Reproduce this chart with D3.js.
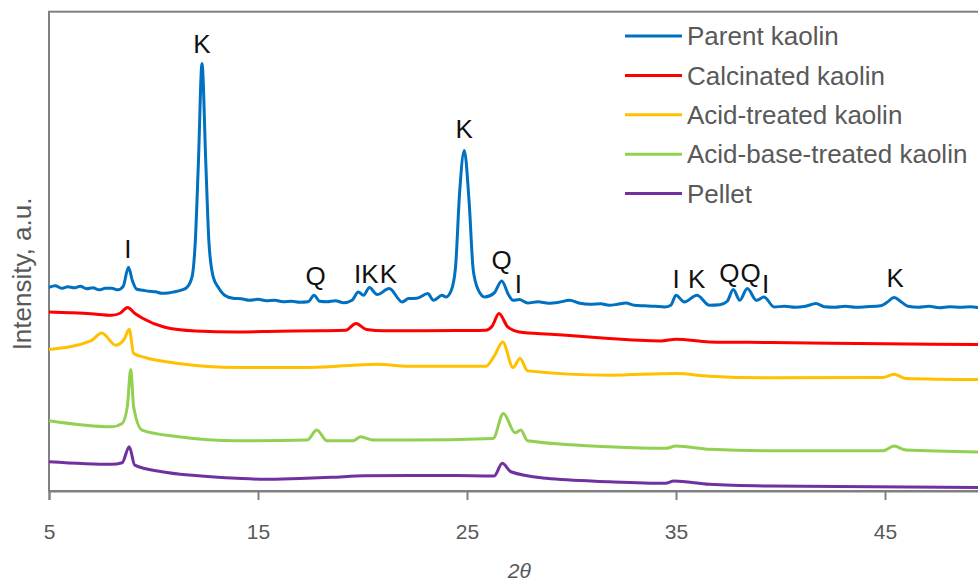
<!DOCTYPE html>
<html>
<head>
<meta charset="utf-8">
<script src="https://cdn.jsdelivr.net/npm/d3@7"></script>
<style>
  body { margin: 0; background: #fff; }
  svg { display: block; font-family: "Liberation Sans", Arial, sans-serif; }
</style>
</head>
<body>
<div id="chart"></div>
<script>
// XRD patterns, [2theta, intensity a.u.] (stacked offsets kept as drawn)
var parentKaolin = [
  [5.0, 204], [5.3, 205.5], [5.6, 203], [5.9, 204.5], [6.2, 203.5], [6.5, 205], [6.8, 202.5],
  [7.1, 203.5], [7.4, 201.5], [7.7, 203], [8.0, 203], [8.3, 201.5], [8.55, 205], [8.8, 224],
  [9.0, 210], [9.2, 202], [9.5, 201], [9.8, 200], [10.1, 199.5], [10.4, 198], [10.7, 198.3],
  [11.0, 199.5], [11.3, 201], [11.6, 204], [11.85, 215], [12.0, 250], [12.15, 330], [12.32, 428],
  [12.5, 330], [12.65, 250], [12.85, 215], [13.1, 204], [13.4, 196], [13.8, 193], [14.2, 192.5],
  [14.6, 191], [15.0, 192], [15.4, 190.5], [15.8, 191], [16.2, 189.5], [16.6, 190], [17.0, 189],
  [17.4, 189.5], [17.68, 196], [17.95, 190], [18.3, 189.5], [18.7, 190.5], [19.1, 188.5],
  [19.5, 191], [19.8, 199.3], [20.05, 196], [20.33, 203.7], [20.7, 196.7], [21.28, 202.7],
  [21.9, 189.3], [22.2, 192.7], [22.6, 193], [23.12, 197.7], [23.4, 191], [23.8, 196],
  [24.0, 194.3], [24.25, 201], [24.45, 224], [24.65, 300], [24.87, 341], [25.1, 290],
  [25.3, 221], [25.55, 201], [25.85, 194.3], [26.3, 198.3], [26.66, 210.3], [27.0, 196],
  [27.2, 191], [27.5, 191.7], [27.9, 188.3], [28.4, 189.5], [28.9, 188], [29.4, 189],
  [29.9, 191], [30.4, 188], [30.9, 187], [31.4, 187.5], [31.8, 186], [32.2, 187], [32.6, 188.3],
  [33.0, 186], [33.5, 185.5], [34.0, 185], [34.45, 184.3], [34.75, 186], [35.0, 196],
  [35.4, 189.3], [36.0, 196], [36.6, 186], [37.1, 186.5], [37.45, 190], [37.74, 201.7],
  [38.05, 191], [38.41, 202.7], [38.85, 191], [39.21, 194.3], [39.7, 184.3], [40.2, 185],
  [40.7, 184], [41.2, 185], [41.7, 187.7], [42.1, 184.5], [42.6, 184], [43.1, 185], [43.6, 184],
  [44.1, 184.5], [44.8, 185.5], [45.1, 189], [45.43, 193.7], [45.8, 189], [46.1, 185],
  [46.6, 184], [47.1, 185], [47.6, 183.5], [48.1, 184.5], [48.6, 184], [49.1, 184.5],
  [49.6, 183.5], [50.0, 184]
];
var calcinatedKaolin = [
  [5.0, 179.3], [6.0, 178.5], [7.0, 177.5], [8.0, 176], [8.4, 178], [8.76, 183.7], [9.1, 178],
  [9.5, 172.7], [10.5, 164.3], [12.0, 160.3], [14.0, 159.3], [16.0, 160], [18.0, 160.5],
  [19.2, 161], [19.69, 167.7], [20.2, 161.7], [21.0, 160.5], [23.0, 160.5], [25.0, 160.7],
  [25.9, 161], [26.2, 165], [26.53, 177.7], [26.95, 164.3], [27.5, 159.3], [29.0, 157],
  [31.0, 154], [31.8, 152.7], [34.3, 150.3], [35.0, 152], [36.6, 149.3], [39.5, 148.7],
  [45.0, 147.5], [50.0, 146.5]
];
var acidTreatedKaolin = [
  [5.0, 141.7], [7.0, 150.3], [7.52, 158.3], [8.2, 146], [8.6, 152], [8.84, 162], [9.05, 137.7],
  [9.6, 133.7], [11.2, 127.7], [14.0, 123.7], [17.5, 123.7], [20.68, 127], [22.2, 125],
  [25.9, 125], [26.3, 135], [26.71, 149.3], [27.2, 123.7], [27.54, 132.7], [27.9, 120.3],
  [31.8, 116], [35.0, 117.7], [36.6, 115], [39.5, 113.3], [44.9, 113.7], [45.43, 117],
  [46.0, 112.7], [50.0, 111.5]
];
var acidBaseTreatedKaolin = [
  [5.0, 70.3], [8.0, 64.3], [8.5, 67.7], [8.75, 85], [8.91, 121.7], [9.05, 84.3], [9.45, 61],
  [11.2, 54.3], [14.0, 50.3], [17.35, 51], [17.81, 61], [18.3, 50.3], [19.55, 50.3],
  [19.91, 54.3], [20.5, 51], [22.2, 51], [26.25, 52.7], [26.74, 77.7], [27.3, 58.3],
  [27.57, 61], [27.9, 50.3], [31.8, 44.3], [34.5, 42.7], [35.0, 45], [36.6, 41.7],
  [39.5, 40.3], [44.9, 40.3], [45.43, 45], [46.0, 41], [50.0, 39]
];
var pellet = [
  [5.0, 29.3], [8.0, 26.7], [8.5, 28.3], [8.84, 44.3], [9.1, 26], [10.4, 19.3], [12.0, 15.5],
  [14.0, 12.7], [15.3, 11.7], [17.0, 12.6], [18.5, 13.7], [20.1, 15.2], [22.2, 15.6],
  [24.5, 15.4], [26.3, 15], [26.69, 27.7], [27.1, 19.3], [28.8, 12.7], [31.8, 9.3],
  [34.5, 7.7], [34.9, 10], [36.6, 6.7], [39.5, 5], [50.0, 3.5]
];

var seriesNames = ["Parent kaolin", "Calcinated kaolin", "Acid-treated kaolin", "Acid-base-treated kaolin", "Pellet"];
var seriesData = [parentKaolin, calcinatedKaolin, acidTreatedKaolin, acidBaseTreatedKaolin, pellet];
var seriesColors = ["#0070C0", "#FF0000", "#FFC000", "#92D050", "#7030A0"];

// phase labels: K kaolinite, I illite, Q quartz
var peakLabels = ["I", "K", "Q", "I", "K", "K", "K", "Q", "I", "I", "K", "Q", "Q", "I", "K"];
var peakTheta  = [8.77, 12.32, 17.76, 19.77, 20.36, 21.24, 24.87, 26.66, 27.46, 35.0, 35.99, 37.55, 38.57, 39.29, 45.49];
var peakHeight = [233, 439, 206, 208, 208, 208, 354, 222, 198, 203, 203, 209, 209, 198, 204];

var xTicks = [5, 15, 25, 35, 45];

var width = 978, height = 584;
var margin = { top: 11.7, left: 49, bottom: 93 };
var plotRight = 989.5; // axis runs to 50, just past the picture edge

var svg = d3.select("#chart").append("svg")
  .attr("width", width)
  .attr("height", height);

var x = d3.scaleLinear().domain([5, 50]).range([margin.left, plotRight]);
var y = d3.scaleLinear().domain([0, 480]).range([height - margin.bottom, margin.top]);

// plot frame
svg.append("rect")
  .attr("x", x(5))
  .attr("y", y(480))
  .attr("width", x(50) - x(5))
  .attr("height", y(0) - y(480))
  .attr("fill", "none")
  .attr("stroke", "#808080")
  .attr("stroke-width", 2);

// x axis
var xAxis = svg.append("g")
  .attr("transform", "translate(0," + y(0) + ")")
  .call(d3.axisBottom(x).tickValues(xTicks).tickSize(9).tickPadding(24).tickFormat(d3.format("d")));
xAxis.select(".domain").attr("stroke", "#808080").attr("stroke-width", 2);
xAxis.selectAll(".tick line").attr("stroke", "#808080").attr("stroke-width", 2);
xAxis.selectAll(".tick text")
  .attr("fill", "#595959")
  .style("font-size", "21px");

// lines
var line = d3.line()
  .x(function(d) { return x(d[0]); })
  .y(function(d) { return y(d[1]); })
  .curve(d3.curveMonotoneX);

svg.selectAll(".series")
  .data(seriesData)
  .enter().append("path")
  .attr("class", "series")
  .attr("d", line)
  .attr("fill", "none")
  .attr("stroke", function(d, i) { return seriesColors[i]; })
  .attr("stroke-width", 3)
  .attr("stroke-linejoin", "round");

// peak letters
svg.selectAll(".peak")
  .data(peakLabels)
  .enter().append("text")
  .attr("class", "peak")
  .attr("x", function(d, i) { return x(peakTheta[i]); })
  .attr("y", function(d, i) { return y(peakHeight[i]); })
  .attr("text-anchor", "middle")
  .attr("fill", "#111")
  .style("font-size", "26px")
  .text(function(d) { return d; });

// legend
var legend = svg.append("g").attr("transform", "translate(625,36)");
var rows = legend.selectAll("g")
  .data(seriesNames)
  .enter().append("g")
  .attr("transform", function(d, i) { return "translate(0," + (i * 39.4) + ")"; });
rows.append("line")
  .attr("x1", 0).attr("x2", 57)
  .attr("stroke", function(d, i) { return seriesColors[i]; })
  .attr("stroke-width", 3);
rows.append("text")
  .attr("x", 62)
  .attr("dy", "0.35em")
  .attr("fill", "#595959")
  .style("font-size", "26px")
  .text(function(d) { return d; });

// axis titles
svg.append("text")
  .attr("x", (x(5) + x(50)) / 2)
  .attr("y", 578)
  .attr("text-anchor", "middle")
  .attr("fill", "#595959")
  .style("font-size", "21px")
  .style("font-style", "italic")
  .text("2\u03B8");

svg.append("text")
  .attr("transform", "translate(31," + 274 + ") rotate(-90)")
  .attr("text-anchor", "middle")
  .attr("fill", "#595959")
  .style("font-size", "26px")
  .text("Intensity, a.u.");
</script>
</body>
</html>
